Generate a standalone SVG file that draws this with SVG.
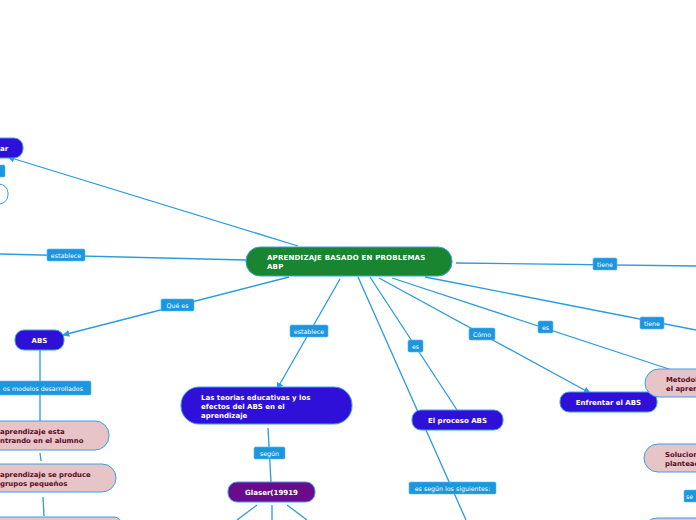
<svg xmlns="http://www.w3.org/2000/svg" width="696" height="520" viewBox="0 0 696 520">
<defs>
<style>
.c{stroke:#2a9be0;stroke-width:1.3;fill:none}
.lb rect{fill:#1d96e0;stroke:#5ab8f0;stroke-width:0.6}
.lb text{font-family:"DejaVu Sans",Verdana,sans-serif;font-size:6.3px;fill:#ffffff}
.nb{fill:#2f10d8;stroke:#3aa0e8;stroke-width:1}
.np{fill:#6a0a8c;stroke:#3aa0e8;stroke-width:1}
.ng{fill:#1a8530;stroke:#3aa0e8;stroke-width:1}
.nk{fill:#e6c4c8;stroke:#3aa0e8;stroke-width:1}
.nw{fill:#ffffff;stroke:#3aa0e8;stroke-width:1}
.tw{font-family:"DejaVu Sans",Verdana,sans-serif;font-size:7px;font-weight:bold;fill:#ffffff}
.tm{font-family:"DejaVu Sans",Verdana,sans-serif;font-size:7px;font-weight:bold;fill:#ffffff;letter-spacing:0.2px}
.tk{font-family:"DejaVu Sans",Verdana,sans-serif;font-size:6.9px;font-weight:bold;fill:#5a0a1e}
</style>
<marker id="ah" viewBox="0 0 10 10" refX="9" refY="5" markerWidth="7" markerHeight="7" orient="auto" markerUnits="userSpaceOnUse">
<path d="M0,0 L10,5 L0,10 z" fill="#2a9be0"/>
</marker>
</defs>
<rect width="696" height="520" fill="#ffffff"/>
<g id="connectors">
<line class="c" x1="298" y1="246" x2="8" y2="157" marker-end="url(#ah)"/>
<line class="c" x1="0" y1="254" x2="246" y2="260"/>
<line class="c" x1="289" y1="277" x2="63" y2="335" marker-end="url(#ah)"/>
<line class="c" x1="40" y1="350" x2="40" y2="421"/>
<line class="c" x1="40" y1="453" x2="41" y2="461"/>
<line class="c" x1="43" y1="497" x2="44" y2="516"/>
<line class="c" x1="340" y1="279" x2="277" y2="389" marker-end="url(#ah)"/>
<line class="c" x1="268" y1="428" x2="271" y2="482"/>
<line class="c" x1="257" y1="505" x2="237" y2="520"/>
<line class="c" x1="272" y1="505" x2="272" y2="520"/>
<line class="c" x1="287" y1="505" x2="307" y2="520"/>
<line class="c" x1="370" y1="277" x2="457" y2="410"/>
<line class="c" x1="358" y1="277" x2="466" y2="520"/>
<line class="c" x1="379" y1="278" x2="590" y2="393" marker-end="url(#ah)"/>
<line class="c" x1="392" y1="278" x2="672" y2="370"/>
<line class="c" x1="425" y1="277" x2="696" y2="330"/>
<line class="c" x1="456" y1="263" x2="696" y2="266"/>
</g>
<g id="labels">
<g class="lb"><rect x="-5" y="165" width="10" height="12" rx="1.5"/></g>
<g class="lb"><rect x="47" y="249" width="38" height="12" rx="1.5"/><text x="66" y="257.5" text-anchor="middle">establece</text></g>
<g class="lb"><rect x="161" y="299" width="33" height="12" rx="1.5"/><text x="177.5" y="307.5" text-anchor="middle">Qué es</text></g>
<g class="lb"><rect x="-10" y="381" width="101" height="14" rx="1.5"/><text x="83" y="390.5" text-anchor="end">os modelos desarrollados</text></g>
<g class="lb"><rect x="290" y="325" width="38" height="12" rx="1.5"/><text x="309" y="333.5" text-anchor="middle">establece</text></g>
<g class="lb"><rect x="254" y="447" width="31" height="12" rx="1.5"/><text x="269.5" y="455.5" text-anchor="middle">según</text></g>
<g class="lb"><rect x="408" y="340" width="15" height="12" rx="1.5"/><text x="415.5" y="348.5" text-anchor="middle">es</text></g>
<g class="lb"><rect x="409" y="482" width="87" height="12" rx="1.5"/><text x="452.5" y="490.5" text-anchor="middle">es según los siguientes:</text></g>
<g class="lb"><rect x="469" y="328" width="26" height="12" rx="1.5"/><text x="482" y="336.5" text-anchor="middle">Cómo</text></g>
<g class="lb"><rect x="538" y="321" width="15" height="12" rx="1.5"/><text x="545.5" y="329.5" text-anchor="middle">es</text></g>
<g class="lb"><rect x="640" y="317" width="24" height="12" rx="1.5"/><text x="652" y="325.5" text-anchor="middle">tiene</text></g>
<g class="lb"><rect x="593" y="258" width="24" height="12" rx="1.5"/><text x="605" y="266.5" text-anchor="middle">tiene</text></g>
<g class="lb"><rect x="684" y="490" width="20" height="12" rx="1.5"/><text x="686" y="498.5">se</text></g>
</g>
<g id="node-main"><rect class="ng" x="246" y="247" width="206" height="29" rx="14"/><text class="tm" x="267" y="260">APRENDIZAJE BASADO EN PROBLEMAS</text><text class="tm" x="267" y="269">ABP</text></g>
<g id="node-topleft"><rect class="nb" x="-60" y="138" width="83" height="20" rx="9"/><text class="tw" x="0" y="150.5">ar</text></g>
<g id="node-topleft2"><rect class="nw" x="-40" y="184" width="48" height="20" rx="9"/></g>
<g id="node-abs"><rect class="nb" x="15" y="330" width="49" height="20" rx="9"/><text class="tw" x="39.5" y="342.5" text-anchor="middle">ABS</text></g>
<g id="node-p1"><rect class="nk" x="-60" y="421" width="169" height="29" rx="14"/><text class="tk" x="0" y="434">aprendizaje esta</text><text class="tk" x="0" y="443">ntrando en el alumno</text></g>
<g id="node-p2"><rect class="nk" x="-60" y="464" width="176" height="28" rx="14"/><text class="tk" x="0" y="477">aprendizaje se produce</text><text class="tk" x="0" y="486">grupos pequeños</text></g>
<g id="node-p3"><rect class="nk" x="-60" y="517" width="182" height="28" rx="8"/></g>
<g id="node-teorias"><rect class="nb" x="181" y="387" width="171" height="37" rx="18"/><text class="tw" x="201" y="400">Las teorias educativas y los</text><text class="tw" x="201" y="409">efectos del ABS en el</text><text class="tw" x="201" y="418">aprendizaje</text></g>
<g id="node-glaser"><rect class="np" x="228" y="482" width="87" height="20" rx="9"/><text class="tw" x="271.5" y="494.5" text-anchor="middle">Glaser(19919</text></g>
<g id="node-proceso"><rect class="nb" x="412" y="410" width="91" height="20" rx="9"/><text class="tw" x="457.5" y="422.5" text-anchor="middle">El proceso ABS</text></g>
<g id="node-enfrentar"><rect class="nb" x="560" y="392" width="97" height="20" rx="9"/><text class="tw" x="608.5" y="404.5" text-anchor="middle">Enfrentar el ABS</text></g>
<g id="node-metodologia"><rect class="nk" x="645" y="369" width="100" height="28" rx="14"/><text class="tk" x="666" y="382">Metodol</text><text class="tk" x="666" y="391">el apren</text></g>
<g id="node-solucion"><rect class="nk" x="644" y="444" width="100" height="28" rx="14"/><text class="tk" x="665" y="457">Solucion</text><text class="tk" x="665" y="466">planteac</text></g>
<g id="node-br"><rect class="nk" x="643" y="518" width="100" height="28" rx="14"/></g>
</svg>
